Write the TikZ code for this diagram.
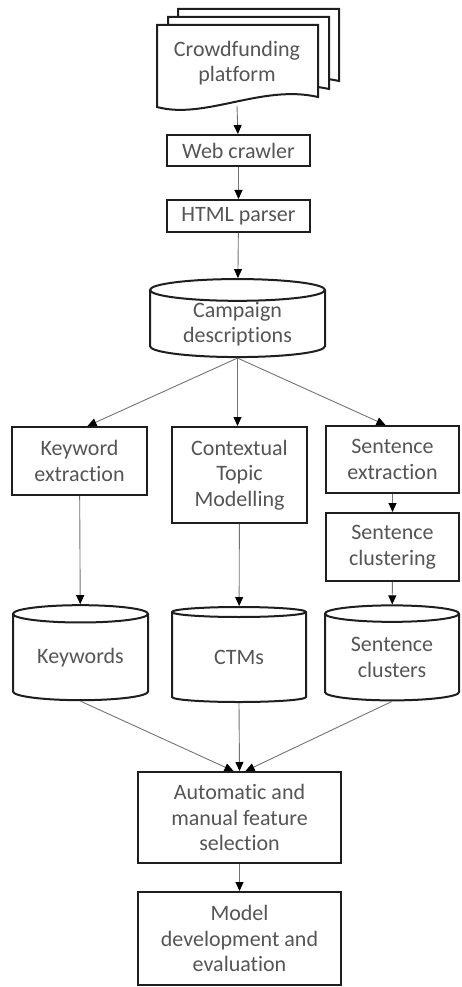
\documentclass[tikz,border=0pt]{standalone}
\usepackage{fontspec}
\setmainfont{Carlito}[Ligatures=NoCommon]
\usetikzlibrary{shapes.geometric, arrows.meta, positioning, calc}
\definecolor{boxline}{RGB}{30, 30, 30}
\definecolor{flowline}{RGB}{115, 115, 115}
\definecolor{labelgray}{RGB}{85, 85, 85}

\begin{document}
\begin{tikzpicture}[x=1pt, y=-1pt,
    label text/.style={text=labelgray, align=center, font=\fontsize{22}{25.5}\selectfont},
    stepbox/.style={label text, draw=boxline, line width=2pt, fill=white, inner sep=0pt},
    dbase/.style={label text, cylinder, shape border rotate=90, aspect=0.2, draw=boxline,
        line width=2pt, fill=white, inner sep=0pt},
    flow/.style={draw=flowline, line width=0.9pt, -{Triangle[length=9pt, width=8pt, color=black]}}]
    \useasboundingbox (0,0) rectangle (461,987);

    % source document stack
    \foreach \dx/\dy in {21/-16, 11/-8, 0/0}
        \draw[draw=boxline, line width=2pt, fill=white, shift={(\dx,\dy)}]
            (157,25) -- (318,25) -- (318,97) .. controls (262,84) and (205,120) .. (157,107) -- cycle;
    \node[label text] (crowd) at (237,63) {Crowdfunding\\platform};
    \coordinate (crowdfoot) at (237,106);

    % crawling and parsing
    \node[stepbox, minimum width=143pt, minimum height=31pt] (crawler) at (238.5,150.5) {Web crawler};
    \node[stepbox, minimum width=143pt, minimum height=32pt] (parser) at (238.5,216) {HTML parser};
    \node[dbase, minimum width=175pt, minimum height=78pt] (campaign) at (237.5,324) {Campaign\\descriptions};

    % three branches
    \node[stepbox, minimum width=135pt, minimum height=68pt] (kwext) at (79.5,461) {Keyword\\extraction};
    \node[stepbox, minimum width=135pt, minimum height=96pt] (ctm) at (239.5,475) {Contextual\\Topic\\Modelling};
    \node[stepbox, minimum width=133pt, minimum height=67pt] (sentext) at (392.5,459.5) {Sentence\\extraction};
    \node[stepbox, minimum width=133pt, minimum height=68pt] (sentclu) at (392.5,547) {Sentence\\clustering};

    \node[dbase, minimum width=135pt, minimum height=95pt] (keywords) at (80.5,657.5) {Keywords};
    \node[dbase, minimum width=134pt, minimum height=95pt] (ctms) at (239,657.5) {CTMs};
    \node[dbase, minimum width=134pt, minimum height=95pt] (clusters) at (392,657.5) {Sentence\\clusters};

    % selection and model
    \node[stepbox, minimum width=203pt, minimum height=91pt] (selection) at (239.5,817.5) {Automatic and\\manual feature\\selection};
    \node[stepbox, minimum width=203pt, minimum height=93pt] (model) at (239.5,938.5) {Model\\development and\\evaluation};

    % connectors
    \draw[flow] (crowdfoot) -- (crawler);
    \draw[flow] (crawler) -- (parser);
    \draw[flow] (parser) -- (campaign);
    \draw[flow] (campaign.south) -- ([xshift=8pt]kwext.north);
    \draw[flow] (campaign.south) -- (ctm.north -| campaign.south);
    \draw[flow] (campaign.south) -- ([xshift=-7pt]sentext.north);
    \draw[flow] (kwext) -- (keywords);
    \draw[flow] (ctm) -- (ctms);
    \draw[flow] (sentext) -- (sentclu);
    \draw[flow] (sentclu) -- (clusters);
    \draw[flow] (keywords.south) -- ([xshift=-6pt]selection.north);
    \draw[flow] (ctms.south) -- (selection.north);
    \draw[flow] (clusters.south) -- ([xshift=6pt]selection.north);
    \draw[flow] (selection) -- (model);
\end{tikzpicture}
\end{document}
